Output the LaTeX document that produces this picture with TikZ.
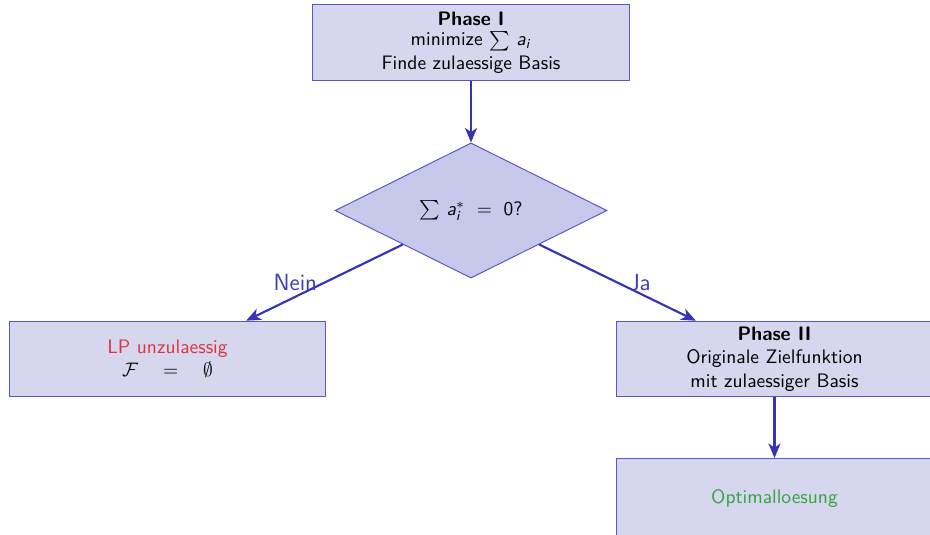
\documentclass[tikz,border=0pt]{standalone}
\usepackage{amsmath}
\usepackage{fontspec}
\usetikzlibrary{shapes.geometric,arrows.meta}

\definecolor{boxfill}{RGB}{214,214,238}
\definecolor{diafill}{RGB}{200,200,234}
\definecolor{boxline}{RGB}{88,88,204}
\definecolor{arrowblue}{RGB}{52,52,182}
\definecolor{lblue}{RGB}{62,62,184}
\definecolor{badred}{RGB}{220,52,58}
\definecolor{goodgreen}{RGB}{52,165,60}

% sans italic letters for the math parts
\newcommand{\sv}[1]{\textsf{\itshape #1}}

\begin{document}
\begin{tikzpicture}[
  x=0.513pt, y=-0.513pt,
  every node/.style={font=\sffamily},
  procbox/.style={draw=boxline, fill=boxfill, line width=0.5pt,
    minimum width=162.4pt, minimum height=38.8pt, align=center, inner sep=2pt},
  decision/.style={diamond, draw=boxline, fill=diafill, line width=0.5pt,
    minimum width=139.5pt, minimum height=69.3pt, inner sep=1pt},
  flow/.style={draw=arrowblue, line width=1.1pt,
    -{Stealth[length=7.5pt,width=6.2pt,inset=2.2pt]}},
  edgelabel/.style={text=lblue, font=\sffamily\large}
]
\useasboundingbox (0,0) rectangle (930,534);
\clip (0,0) rectangle (930,534);

\node[procbox] (p1) at (471,42.5)
  {\textbf{Phase I}\\[-1.5pt] minimize \smash{$\sum$} \sv{a}$_{\text{\sv{i}}}$\\ Finde zulaessige Basis};
\node[decision] (d) at (471,210.5)
  {$\sum$ \sv{a}$_{\text{\sv{i}}}^{*}$\hspace{6pt}$=$\hspace{6pt}0?};
\node[procbox] (lp) at (167.5,359)
  {\textcolor{badred}{LP unzulaessig}\\ $\mathcal{F}\quad=\quad\emptyset$};
\node[procbox] (p2) at (774.5,359)
  {\textbf{Phase II}\\ Originale Zielfunktion\\ mit zulaessiger Basis};
\node[procbox, minimum height=41pt] (opt) at (774.5,498.5)
  {\textcolor{goodgreen}{Optimalloesung}};

\draw[flow] (p1) -- (d);
\draw[flow] (d.south west) -- (lp) node[midway, left, edgelabel] {Nein};
\draw[flow] (d.south east) -- (p2) node[midway, right, xshift=2pt, edgelabel] {Ja};
\draw[flow] (p2) -- (opt);
\end{tikzpicture}
\end{document}
